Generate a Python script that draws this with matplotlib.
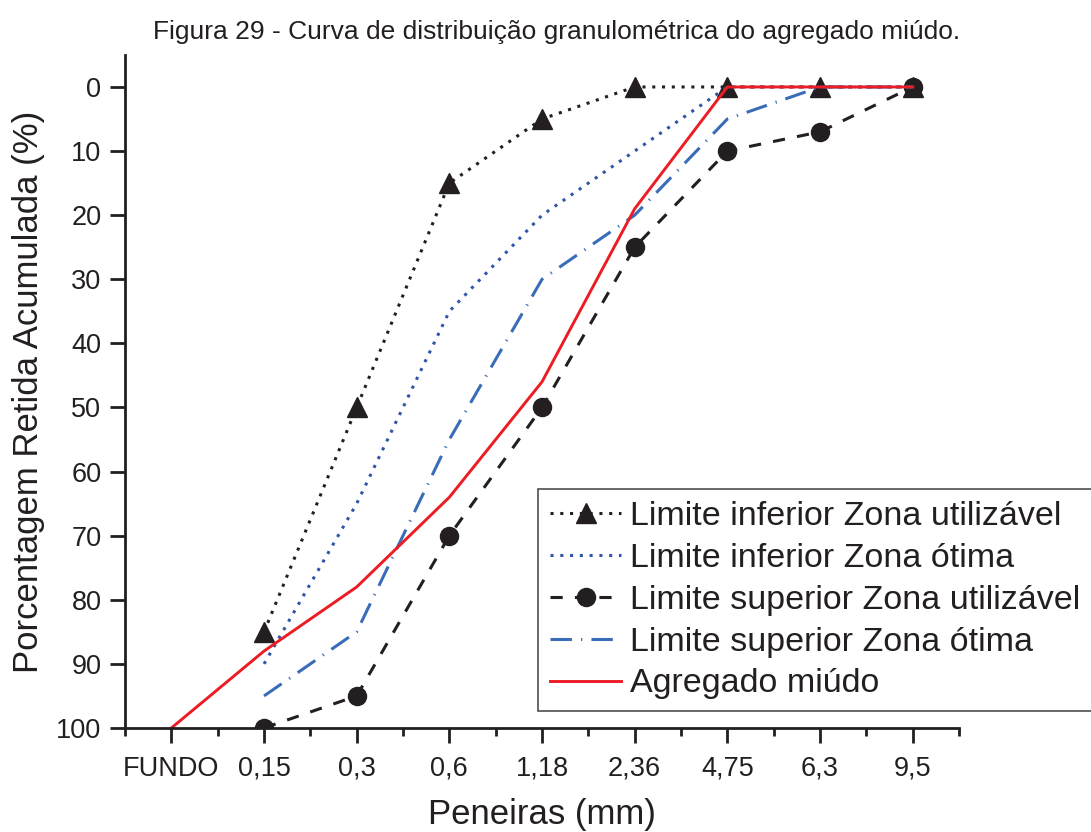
import numpy as np
import matplotlib.pyplot as plt
from matplotlib.ticker import MultipleLocator

plt.rcParams['font.family'] = ['Liberation Sans', 'DejaVu Sans']

peneiras = ['FUNDO', '0,15', '0,3', '0,6', '1,18', '2,36', '4,75', '6,3', '9,5']
x_all = np.arange(len(peneiras))
x_lim = x_all[1:]  # limites começam em 0,15

inf_utilizavel = [85, 50, 15, 5, 0, 0, 0, 0]
inf_otima = [90, 65, 35, 20, 10, 0, 0, 0]
sup_utilizavel = [100, 95, 70, 50, 25, 10, 7, 0]
sup_otima = [95, 85, 55, 30, 20, 5, 0, 0]
agregado = [100, 88, 78, 64, 46, 19, 0, 0, 0]

preto = '#231F20'
azul = '#3A6DB8'
azul_esc = '#2E55A8'
vermelho = '#ED1C24'

fig = plt.figure(figsize=(10.91, 8.32), dpi=100)
ax = fig.add_axes([0.1146, 0.125, 0.7644, 0.809])

ax.plot(x_lim, inf_utilizavel, color=preto, lw=2.2, ls=(0, (1, 2.2)),
        marker='^', ms=14.5, label='Limite inferior Zona utilizável')
ax.plot(x_lim, inf_otima, color=azul_esc, lw=2.2, ls=(0, (1, 2.2)),
        label='Limite inferior Zona ótima')
ax.plot(x_lim, sup_utilizavel, color=preto, lw=2.2, ls=(0, (4, 4)),
        marker='o', ms=13, label='Limite superior Zona utilizável')
ax.plot(x_lim, sup_otima, color=azul, lw=2.2, ls=(0, (7, 3, 0.4, 3)),
        label='Limite superior Zona ótima')
ax.plot(x_all, agregado, color=vermelho, lw=2.1, label='Agregado miúdo')

ax.set_xlim(-0.5, 8.5)
ax.set_ylim(100, -5)
ax.set_xticks(x_all)
ax.set_xticklabels(peneiras)
ax.xaxis.set_minor_locator(MultipleLocator(0.5))
ax.set_yticks(np.arange(0, 101, 10))

for s in ['top', 'right']:
    ax.spines[s].set_visible(False)
for s in ['left', 'bottom']:
    ax.spines[s].set_linewidth(2)
    ax.spines[s].set_color(preto)

ax.tick_params(axis='x', which='major', length=11, width=2, labelsize=19.5, pad=9, colors=preto)
ax.tick_params(axis='x', which='minor', length=6, width=2, colors=preto)
ax.tick_params(axis='y', which='major', length=11, width=2, labelsize=19.5, pad=6, colors=preto)

ax.set_xlabel('Peneiras (mm)', fontsize=25, color=preto, labelpad=12)
ax.set_ylabel('Porcentagem Retida Acumulada (%)', fontsize=25, color=preto, labelpad=8)

fig.text(0.51, 0.962, 'Figura 29 - Curva de distribuição granulométrica do agregado miúdo.',
         ha='center', va='center', fontsize=19, color=preto)

leg = ax.legend(loc='upper left', bbox_to_anchor=(538 / 1091, 1 - 489 / 832),
                bbox_transform=fig.transFigure, fontsize=24.5, numpoints=1,
                handlelength=2.1, handletextpad=0.25, labelspacing=0.32,
                borderpad=0.35, borderaxespad=0, fancybox=False, frameon=True)
leg.get_frame().set_edgecolor(preto)
leg.get_frame().set_linewidth(1.2)
for t in leg.get_texts():
    t.set_color(preto)

plt.savefig('out.png', dpi=100)
